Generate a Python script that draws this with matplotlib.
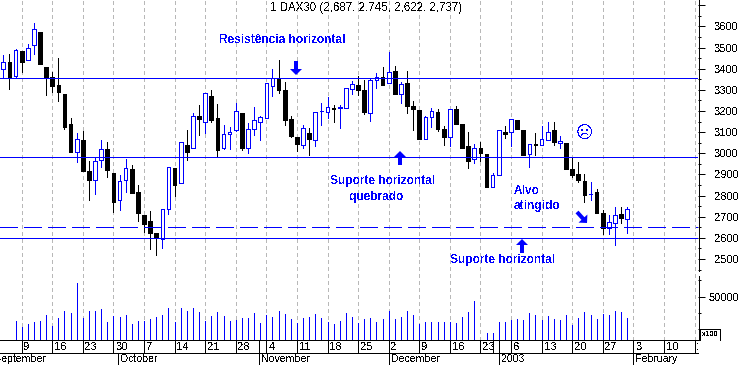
import matplotlib
matplotlib.use('Agg')
import matplotlib.pyplot as plt
import numpy as np
from matplotlib.patches import FancyArrow
from matplotlib.transforms import Bbox, IdentityTransform

# candles, first one is 3 sessions before the "9" tick
first_day = -3
opens = [3397, 3432, 3364, 3484, 3440, 3511, 3574, 3408, 3359, 3323, 3280, 3138, 3004, 3063, 2916, 2872, 2966, 3020,
         2907, 2777, 2872, 2925, 2817, 2708, 2679, 2623, 2593, 2735, 2930, 2858, 3039, 3023, 3176, 3149, 3271, 3167,
         3026, 3089, 3108, 3190, 3026, 3116, 3149, 3168, 3320, 3354, 3299, 3160, 3075, 3041, 3094, 3064, 3198, 3197,
         3216, 3214, 3216, 3302, 3323, 3299, 3189, 3345, 3361, 3334, 3389, 3279, 3334, 3224, 3205, 3066, 3170, 3195,
         3115, 3075, 3209, 3138, 3034, 2971, 3025, 2996, 2842, 2899, 3100, 3102, 3157, 3110, 2999, 3044, 3041, 3064,
         3110, 3047, 3047, 2924, 2900, 2869, 2806, 2817, 2716, 2648, 2668, 2713, 2687]
highs = [3465, 3470, 3492, 3484, 3517, 3616, 3574, 3408, 3384, 3451, 3280, 3167, 3094, 3105, 2962, 2981, 3063, 3053,
         2907, 2895, 2973, 2944, 2848, 2708, 2727, 2623, 2735, 2933, 2930, 3052, 3110, 3189, 3228, 3283, 3299, 3233,
         3134, 3126, 3238, 3190, 3142, 3219, 3176, 3331, 3399, 3441, 3335, 3176, 3075, 3132, 3118, 3194, 3236, 3268,
         3227, 3228, 3307, 3343, 3365, 3347, 3350, 3381, 3406, 3477, 3413, 3335, 3389, 3247, 3205, 3176, 3212, 3208,
         3129, 3208, 3224, 3138, 3100, 3044, 3053, 2996, 2905, 3108, 3129, 3160, 3157, 3110, 3042, 3096, 3129, 3148,
         3148, 3082, 3047, 2984, 2959, 2902, 2864, 2831, 2732, 2708, 2744, 2744, 2745]
lows = [3354, 3306, 3358, 3384, 3440, 3471, 3424, 3276, 3290, 3249, 3116, 3007, 2960, 2918, 2779, 2809, 2936, 2889,
        2722, 2733, 2818, 2813, 2681, 2629, 2549, 2520, 2553, 2714, 2799, 2858, 2968, 3023, 3086, 3094, 3149, 2989,
        3022, 3022, 3105, 3015, 3001, 3086, 3063, 3168, 3272, 3287, 3135, 3078, 3011, 3026, 2992, 3034, 3134, 3165,
        3148, 3121, 3216, 3282, 3276, 3186, 3154, 3310, 3324, 3334, 3282, 3239, 3189, 3110, 3069, 3066, 3123, 3107,
        3041, 3034, 3140, 3026, 2932, 2955, 2965, 2842, 2842, 2899, 3074, 3034, 3116, 2993, 2936, 2993, 3041, 3064,
        3041, 3025, 2924, 2889, 2864, 2771, 2779, 2719, 2618, 2618, 2566, 2672, 2622]
closes = [3430, 3358, 3487, 3433, 3496, 3586, 3424, 3362, 3320, 3291, 3124, 3007, 3066, 2918, 2875, 2962, 3022, 2922,
          2771, 2867, 2929, 2813, 2719, 2667, 2624, 2599, 2735, 2933, 2851, 3052, 3007, 3175, 3164, 3283, 3159, 3017,
          3089, 3102, 3198, 3026, 3113, 3156, 3170, 3331, 3354, 3299, 3159, 3082, 3045, 3118, 3069, 3194, 3200, 3217,
          3209, 3217, 3307, 3326, 3299, 3194, 3345, 3362, 3324, 3383, 3282, 3326, 3225, 3211, 3069, 3170, 3198, 3116,
          3078, 3208, 3140, 3026, 2965, 3023, 3003, 2842, 2896, 3108, 3093, 3160, 3116, 2993, 3042, 3041, 3066, 3102,
          3052, 3056, 2924, 2899, 2873, 2804, 2809, 2719, 2645, 2673, 2706, 2695, 2737]

# volume starts one session later than the candles, no bar on session 75
vol_first_day = -1
volume = [22100, 15100, 18600, 21000, 22100, 29100, 16300, 25600, 33800, 31400, 66300, 25600, 33800, 33800, 36100,
          21000, 27900, 26800, 29100, 18600, 22100, 22100, 24400, 26800, 29100, 37200, 21000, 37200, 33800, 37200,
          32600, 22100, 27900, 32600, 27900, 22100, 23300, 25600, 25600, 31400, 19800, 29100, 26800, 33800, 30300,
          24400, 19800, 25600, 26800, 30300, 25600, 21000, 18600, 22100, 31400, 26800, 19800, 24400, 25600, 21000,
          24400, 33800, 24400, 26800, 33800, 29100, 18600, 21000, 21000, 21000, 21000, 21000, 19800, 26800, 32600,
          45400, 0, 8100, 8100, 21000, 21000, 23300, 24400, 23300, 31400, 29100, 23300, 27900, 24400, 23300, 29100,
          17500, 25600, 32600, 29100, 24400, 30300, 29100, 33800, 32600, 25600]

# support / resistance levels
solid_levels = [3355, 2981, 2598]
dashed_level = 2650

week_days = list(range(0, 115, 5))
week_labels = ['9', '16', '23', '30', '7', '14', '21', '28', '4', '11', '18', '25', '2', '9', '16', '23', '6', '13',
               '20', '27', '3', '10', '17']
month_days = [-4.7, 15.8, 38.85, 60, 78.1, 100]
month_labels = ['September', 'October', 'November', 'December', '2003', 'February']

price_major = list(range(2500, 3800, 100))
price_minor = list(range(2450, 3700, 100))
vol_major = [50000]
vol_minor = [12500, 31500, 70000]

W, H = 738, 365
BLUE = '#0000ff'
LW = 0.72  # one pixel at dpi 100
FONT = 'Liberation Sans'

plt.rcParams['font.family'] = FONT
plt.rcParams['text.antialiased'] = False
plt.rcParams['font.size'] = 8

fig = plt.figure(figsize=(W / 100, H / 100), dpi=100, facecolor='white')
box = [0, 25 / H, 698 / W, 340 / H]
ax = fig.add_axes(box)
ax.set_xlim(-3.543, 110.57)
ax.set_ylim(2117, 3725)
ax.patch.set_alpha(0)
for s in ax.spines.values():
    s.set_visible(False)

# weekly grid
for d in week_days:
    ax.axvline(d, color='#b8b8b8', lw=LW, dashes=(4, 3), zorder=1, antialiased=False)

# candles
days = np.arange(len(opens)) + first_day
o = np.array(opens)
c = np.array(closes)
up = c >= o
wick_col = [BLUE if u else 'black' for u in up]
ax.vlines(days, lows, highs, colors=wick_col, lw=LW, zorder=2, antialiased=False)
ax.bar(days[~up], (o - c)[~up], bottom=c[~up], width=0.6, color='black', edgecolor='black', lw=LW, zorder=3,
       antialiased=False)
ax.bar(days[up], (c - o)[up], bottom=o[up], width=0.6, color='white', edgecolor=BLUE, lw=LW, zorder=3,
       antialiased=False)

# levels
for lev in solid_levels:
    ax.axhline(lev, color=BLUE, lw=LW, zorder=4, antialiased=False)
ax.axhline(dashed_level, color=BLUE, lw=LW, dashes=(18, 6), zorder=4, antialiased=False)

# price axis
ax.yaxis.tick_right()
ax.set_yticks(price_major)
ax.set_yticklabels([''  if p == 3700 else str(p) for p in price_major])
ax.set_yticks(price_minor, minor=True)
ax.tick_params(axis='y', which='major', length=5, width=LW, pad=6.5, labelsize=8)
ax.tick_params(axis='y', which='minor', length=2.5, width=LW)
ax.set_xticks([])

# volume, same box as the price axes
ax2 = fig.add_axes(box)
ax2.set_xlim(ax.get_xlim())
ax2.set_ylim(0, 395400)
ax2.patch.set_alpha(0)
for s in ax2.spines.values():
    s.set_visible(False)
vol = np.array(volume)
vol_days = np.arange(len(volume)) + vol_first_day
ax2.vlines(vol_days[vol > 0], 0, vol[vol > 0], colors=BLUE, lw=LW, antialiased=False)
ax2.yaxis.tick_right()
ax2.set_yticks(vol_major)
ax2.set_yticklabels([str(v) for v in vol_major])
ax2.set_yticks(vol_minor, minor=True)
ax2.tick_params(axis='y', which='major', length=5, width=LW, pad=2.5, labelsize=8)
ax2.tick_params(axis='y', which='minor', length=2.5, width=LW)
ax2.set_xticks([])

# the rest is placed in pixels, y from the top of the image
def px_line(xs, ys):
    fig.add_artist(plt.Line2D(xs, [H - y for y in ys], color='black', lw=LW, antialiased=False,
                              transform=IdentityTransform()))

def px_text(x, y, s, **kw):
    return fig.text(x, H - y, s, transform=IdentityTransform(), va='center', **kw)

def px_arrow(x0, y0, x1, y1):
    fig.add_artist(FancyArrow(x0, H - y0, x1 - x0, y0 - y1, width=4, head_width=12, head_length=6,
                              length_includes_head=True, color=BLUE, lw=0, transform=IdentityTransform()))

def day_px(d):
    return (d + 3.543) * 698 / (110.57 + 3.543)

# right spine has a small break between price and volume
px_line([698.5, 698.5], [0, 271])
px_line([698.5, 698.5], [276, 340])
px_line([0, 698], [340, 340])
px_line([0, 698], [353, 353])

for d, lab in zip(week_days, week_labels):
    x = day_px(d)
    px_line([x, x], [340, 353])
    t = px_text(x + 2, 347, lab, color='black', fontsize=8)
    if lab == '17':
        t.set_clip_box(Bbox.from_extents(0, 0, 698, H))
        t.set_clip_on(True)
px_line([day_px(77)] * 2, [340, 353])

for d, lab in zip(month_days, month_labels):
    x = day_px(d)
    px_line([x, x], [340 if lab in ('November', 'December', '2003', 'February') else 353, H])
    px_text(x + 2, 359.5, lab, color='black', fontsize=7.6)

# x100 box
px_line([700, 700, 720, 720], [340, 329, 329, 340])
px_text(702, 335, 'x100', color='black', fontsize=5.6)

# title and annotations
px_text(270, 8, '1 DAX30 (2,687, 2,745, 2,622, 2,737)', color='black', fontsize=8.3)
ann = dict(color=BLUE, fontweight='bold', fontsize=8.6)
px_text(219, 40, 'Resistência horizontal', **ann)
px_text(330, 181, 'Suporte horizontal', **ann)
px_text(350, 197, 'quebrado', **ann)
px_text(514, 191, 'Alvo', **ann)
px_text(514, 206, 'atingido', **ann)
px_text(450, 260, 'Suporte horizontal', **ann)
fig.text(584.5, H - 133, '\u2639', transform=IdentityTransform(), color=BLUE, family='DejaVu Sans', fontsize=12,
         ha='center', va='center')

px_arrow(296, 61, 296, 75)
px_arrow(400, 165, 400, 151)
px_arrow(522, 253, 522, 239)
px_arrow(577, 212, 587, 223)

fig.savefig('out.png', dpi=100)
